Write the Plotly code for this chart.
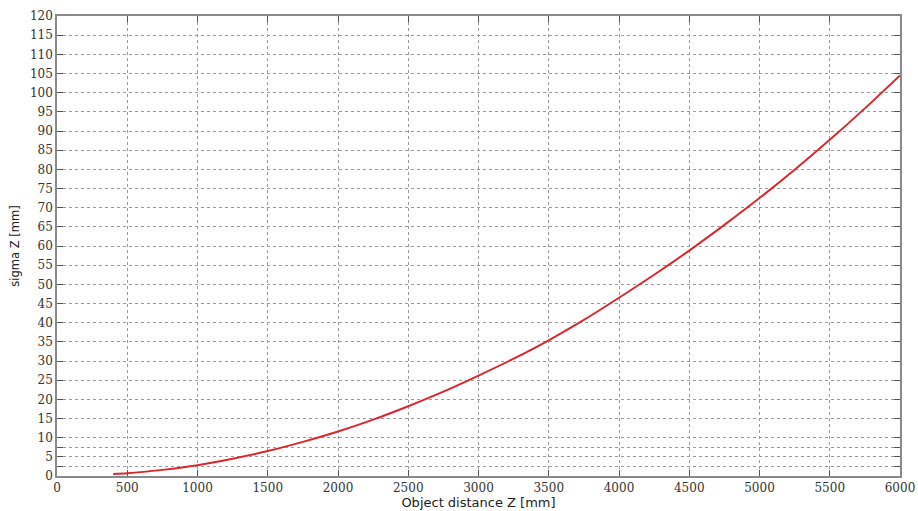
import plotly.graph_objects as go

# Data
object_distance_mm = [400, 500, 750, 1000, 1250, 1500, 1750, 2000, 2250, 2500, 2750,
                      3000, 3250, 3500, 3750, 4000, 4250, 4500, 4750, 5000, 5250,
                      5500, 5750, 6000]
sigma_z_mm = [0.5, 0.7, 1.6, 2.8, 4.5, 6.5, 8.9, 11.6, 14.7, 18.2, 22.0,
              26.2, 30.6, 35.4, 40.7, 46.5, 52.5, 58.8, 65.5, 72.5, 79.9,
              87.7, 95.9, 104.5]

x_ticks = list(range(0, 6001, 500))
y_ticks = list(range(0, 121, 5))
y_extra_grid = [2.5, 7.5]

fig = go.Figure()
fig.add_trace(go.Scatter(
    x=object_distance_mm, y=sigma_z_mm, mode="lines",
    line=dict(color="#d8282e", width=2, shape="spline", smoothing=0.8),
    showlegend=False,
))

axis_common = dict(
    showline=True, linecolor="#8a8a8a", linewidth=1.5, mirror="allticks",
    ticks="inside", ticklen=6, tickcolor="#555555", tickwidth=1,
    showgrid=True, gridcolor="#9a9a9a", griddash="dot", gridwidth=1,
    zeroline=False, automargin=False, ticklabeloverflow="allow",
)

fig.update_layout(
    width=918, height=511,
    margin=dict(l=57, r=18, t=16, b=35),
    paper_bgcolor="white", plot_bgcolor="white",
    font=dict(family="DejaVu Sans", color="#333333"),
    xaxis=dict(
        range=[0, 6000], tickvals=x_ticks,
        tickfont=dict(family="DejaVu Serif", size=12, color="#333333"),
        title=dict(text="Object distance Z [mm]", standoff=1,
                   font=dict(family="DejaVu Sans", size=13, color="#222222")),
        **axis_common,
    ),
    yaxis=dict(
        range=[0, 120], tickvals=y_ticks,
        tickfont=dict(family="DejaVu Serif", size=12, color="#333333"),
        title=dict(text="sigma Z [mm]", standoff=8,
                   font=dict(family="DejaVu Sans", size=11.5, color="#222222")),
        minor=dict(tickvals=y_extra_grid, showgrid=True, gridcolor="#9a9a9a",
                   griddash="dot", gridwidth=1, ticks="inside", ticklen=6,
                   tickcolor="#555555"),
        **axis_common,
    ),
)

# remove the browser's default page margin so the figure fills the window
fig.write_html(
    "out.html",
    config={"displayModeBar": False},
    post_script="document.body.style.margin='0';document.body.style.overflow='hidden';",
)
